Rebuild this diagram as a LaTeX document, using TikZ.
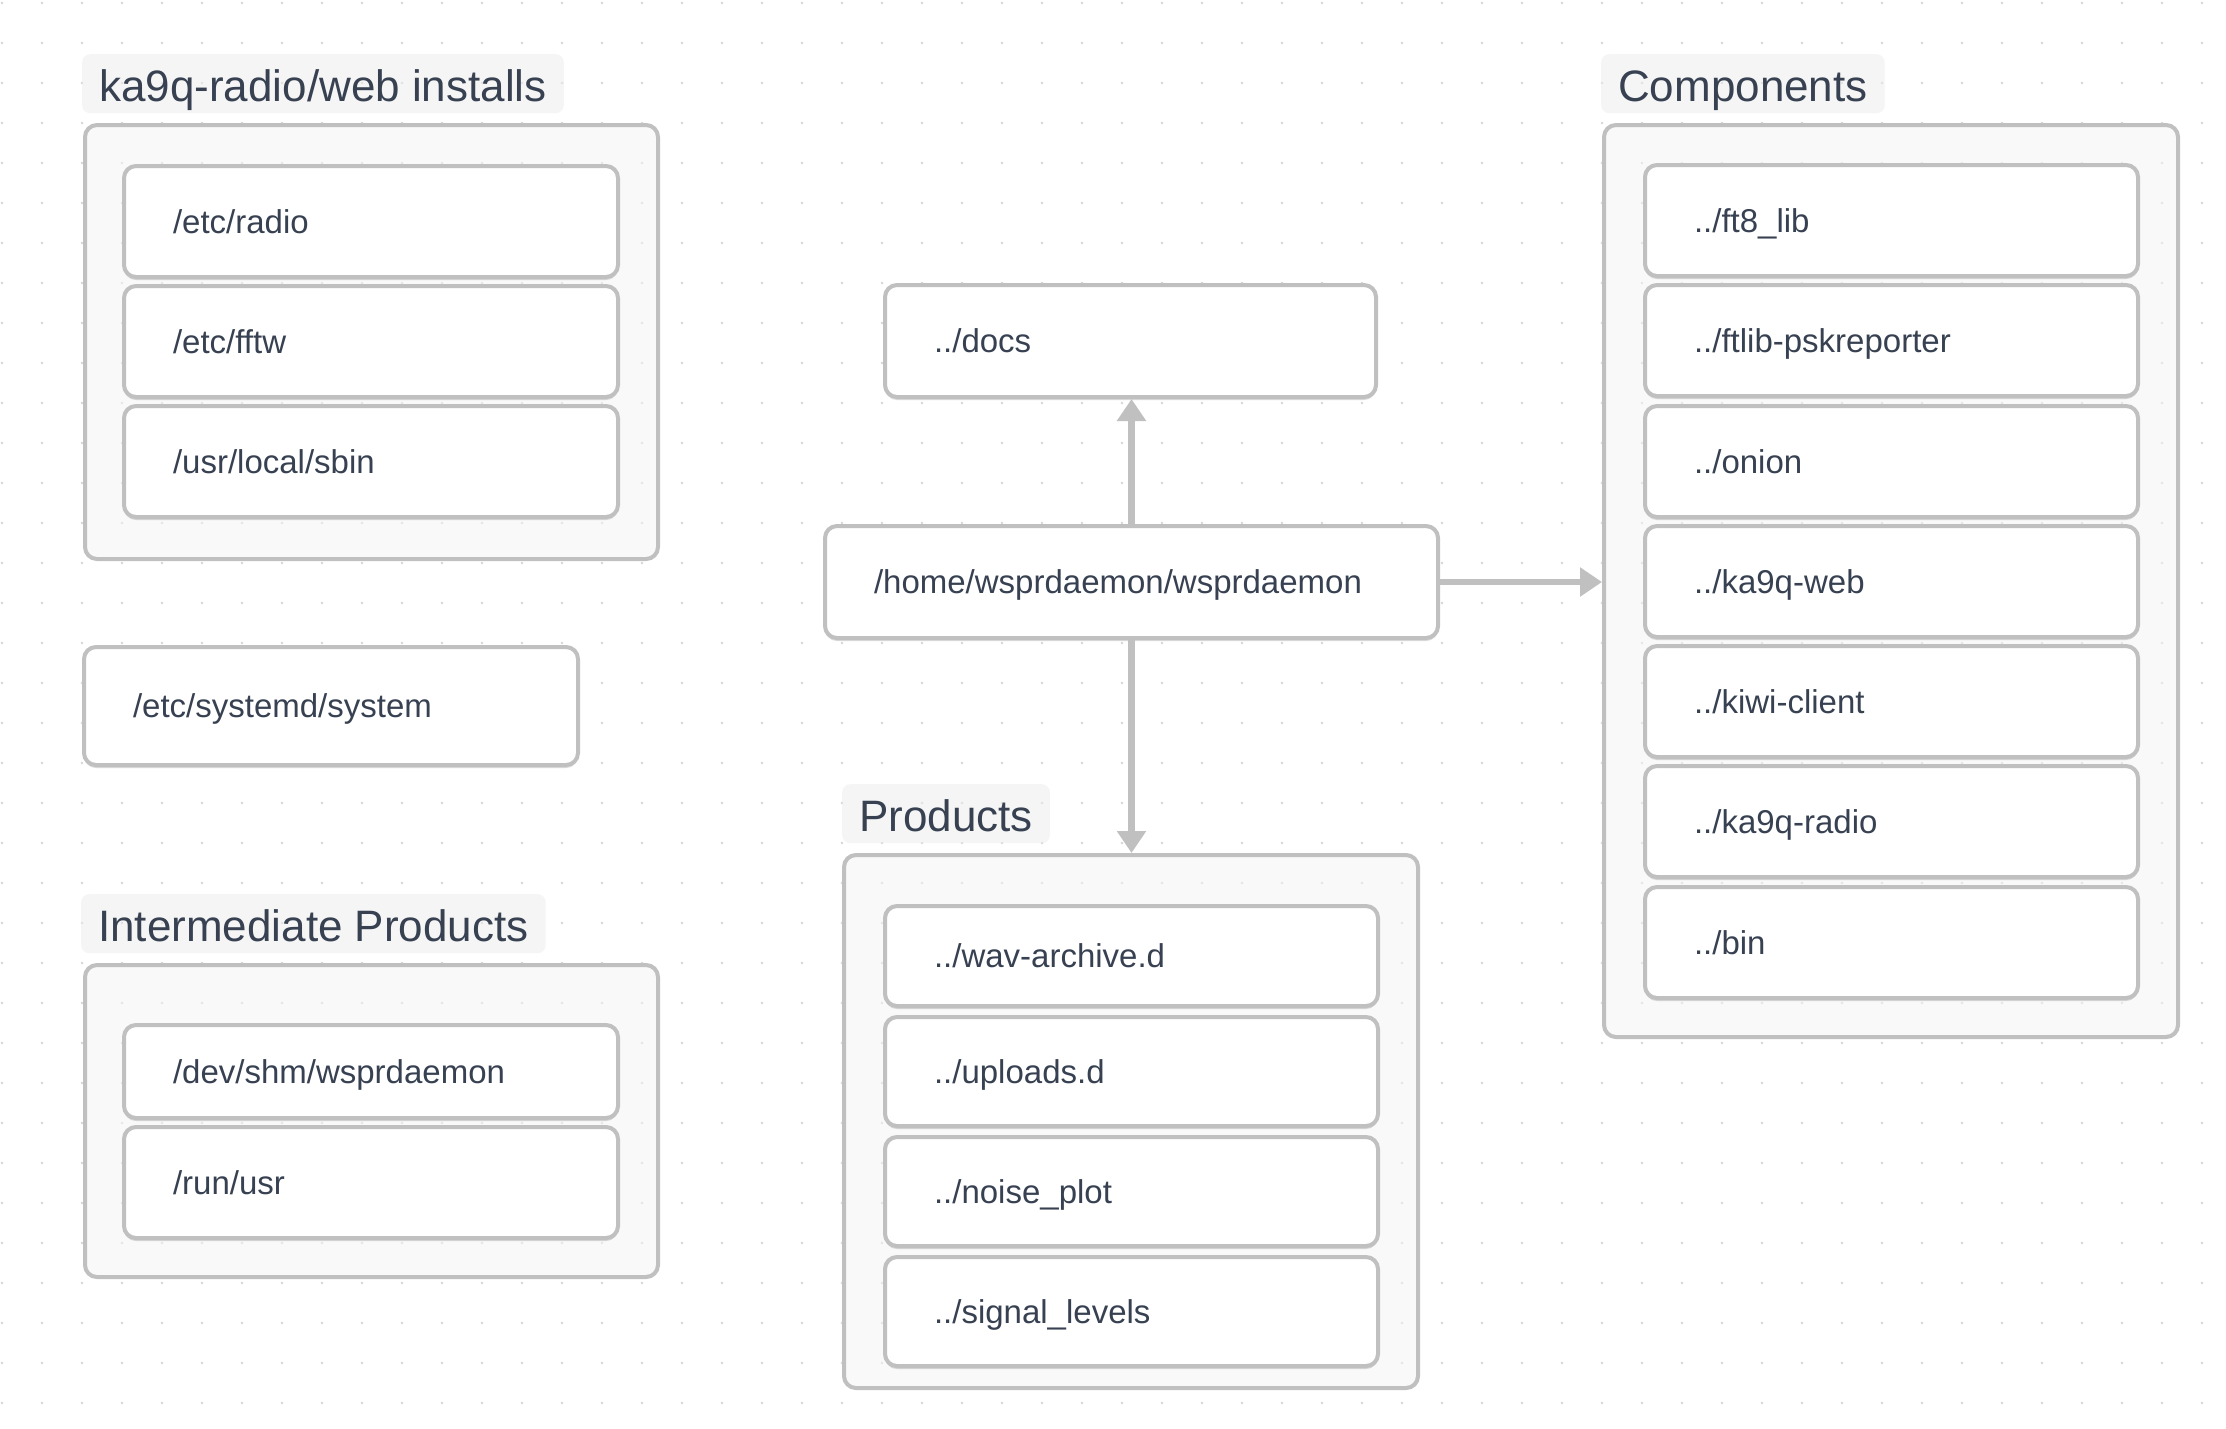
\documentclass[tikz,border=0pt]{standalone}
\usepackage{fontspec}
\setmainfont{Liberation Sans}
\usetikzlibrary{arrows.meta,shadows}
\definecolor{bordc}{HTML}{C0C0C0}
\definecolor{textc}{HTML}{374151}
\definecolor{arrc}{HTML}{C0C0C0}
\definecolor{dotc}{HTML}{D6D6D6}
\definecolor{contf}{HTML}{F4F4F4}
\definecolor{labf}{HTML}{ECECEC}
\newcommand\mkitem[6]{\pgfmathsetmacro\ibw{#4-102}\pgfmathsetmacro\ibh{#5-4}\node[itembox, text width=\ibw pt, minimum height=\ibh pt] (#1) at (#2,#3) {#6};}
\newcommand\mkgroup[5]{\pgfmathsetmacro\ibw{#4-4}\pgfmathsetmacro\ibh{#5-4}\node[groupbox, minimum width=\ibw pt, minimum height=\ibh pt] (#1) at (#2,#3) {};}
\tikzset{
  itembox/.style={draw=bordc, line width=4pt, fill=white, rounded corners=12pt, anchor=north west,
    inner xsep=49pt, inner ysep=0pt, align=left, text=textc, font=\fontsize{33}{39}\selectfont,
    text height=23.6pt, text depth=0pt,
    drop shadow={shadow xshift=0pt, shadow yshift=-3pt, opacity=0.14, fill=black}},
  groupbox/.style={draw=bordc, line width=4pt, fill=contf, fill opacity=0.5, rounded corners=12pt,
    anchor=north west, inner sep=0pt},
  grouplabel/.style={fill=labf, fill opacity=0.5, text opacity=1, rounded corners=8pt, anchor=north west,
    inner xsep=17pt, inner ysep=0pt, minimum height=59pt, text=textc, font=\fontsize{44}{52}\selectfont,
    text height=35pt, text depth=0pt},
  conn/.style={draw=arrc, line width=6.5pt, -{Triangle[length=22pt,width=28pt]}},
}
\begin{document}
\begin{tikzpicture}[x=1pt,y=-1pt]
\useasboundingbox (0,0) rectangle (2226,1428);
\fill[white] (0,0) rectangle (2226,1428);
\foreach \i in {0,...,55}{\foreach \j in {0,...,35}{\fill[dotc] ({2+40*\i},{3+40*\j}) circle[radius=1.4pt];}}

% group labels
\node[grouplabel] (lblinst) at (82,54) {ka9q-radio/web installs};
\node[grouplabel] (lblcomp) at (1601,54) {Components};
\node[grouplabel] (lblprod) at (842,784) {Products};
\node[grouplabel] (lblinter) at (81,894) {Intermediate Products};

% group containers
\mkgroup{inst}{83}{123}{577}{438}
\mkgroup{inter}{83}{963}{577}{316}
\mkgroup{prod}{842}{853}{578}{537}
\mkgroup{comp}{1602}{123}{578}{916}

% installs
\mkitem{radio}{122}{164}{498}{115}{/etc/radio}
\mkitem{fftw}{122}{284}{498}{115}{/etc/fftw}
\mkitem{sbin}{122}{404}{498}{115}{/usr/local/sbin}
% systemd
\mkitem{systemd}{82}{645}{498}{122}{/etc/systemd/system}
% intermediate
\mkitem{shm}{122}{1023}{498}{97}{/dev/shm/wsprdaemon}
\mkitem{runusr}{122}{1125}{498}{115}{/run/usr}
% centre
\mkitem{docs}{883}{283}{495}{116}{../docs}
\mkitem{home}{823}{524}{617}{116}{/home/wsprdaemon/wsprdaemon}
% products
\mkitem{wav}{883}{904}{497}{104}{../wav-archive.d}
\mkitem{uploads}{883}{1015}{497}{113}{../uploads.d}
\mkitem{noise}{883}{1135}{497}{113}{../noise\_plot}
\mkitem{signal}{883}{1255}{497}{113}{../signal\_levels}
% components
\mkitem{ft8}{1643}{163}{497}{115}{../ft8\_lib}
\mkitem{ftlib}{1643}{283}{497}{115}{../ftlib-pskreporter}
\mkitem{onion}{1643}{404}{497}{115}{../onion}
\mkitem{kaweb}{1643}{524}{497}{115}{../ka9q-web}
\mkitem{kiwi}{1643}{644}{497}{115}{../kiwi-client}
\mkitem{karadio}{1643}{764}{497}{115}{../ka9q-radio}
\mkitem{bin}{1643}{885}{497}{115}{../bin}

% connectors
\draw[conn] (home.north) -- (home.north |- docs.south);
\draw[conn] (home.south) -- (home.south |- prod.north);
\draw[conn] (home.east) -- (home.east -| comp.west);
\end{tikzpicture}
\end{document}
